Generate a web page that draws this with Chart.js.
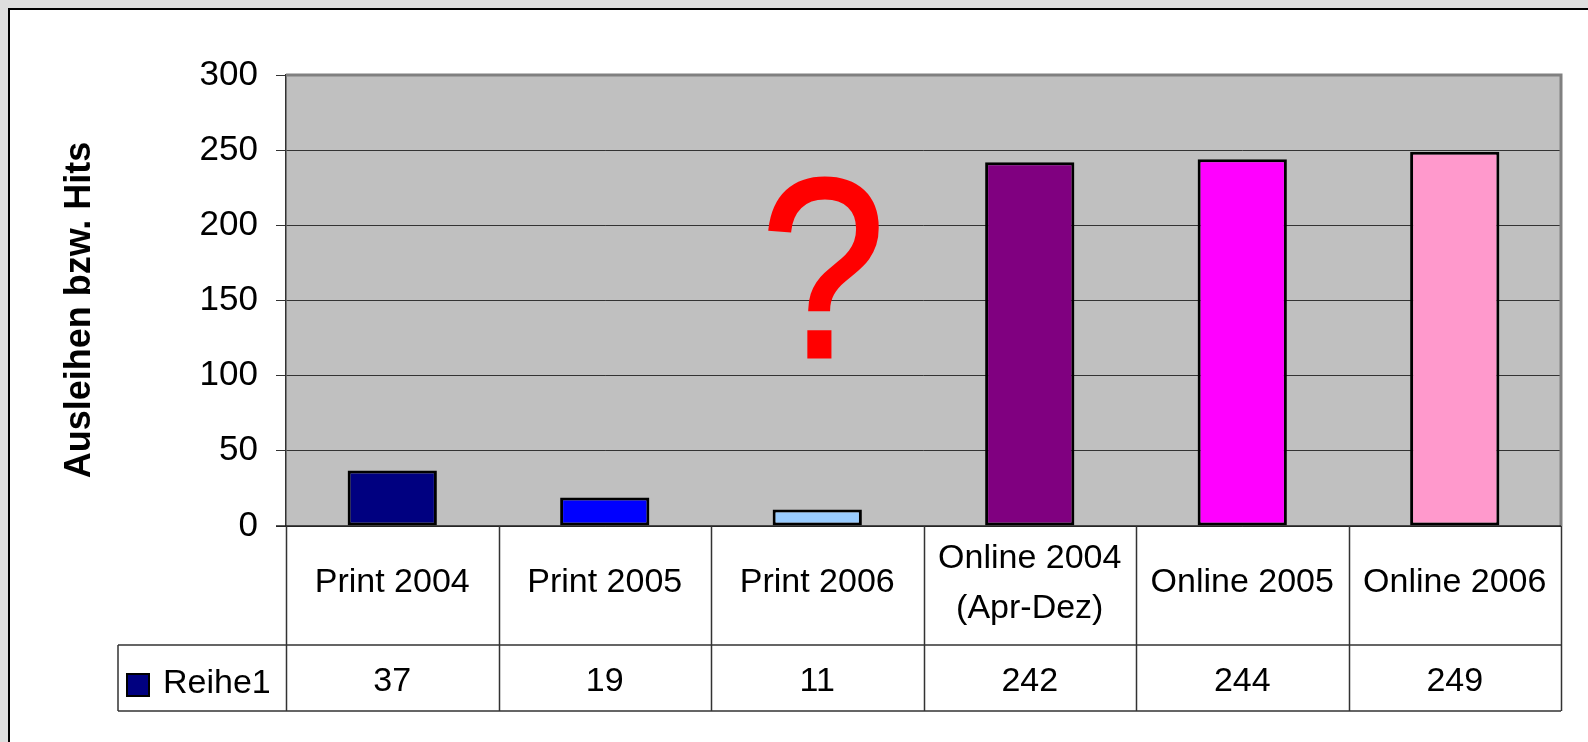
<!DOCTYPE html>
<html><head><meta charset="utf-8">
<script src="https://cdn.jsdelivr.net/npm/chart.js@4/dist/chart.umd.min.js"></script>
<style>html,body{margin:0;padding:0;background:#dedede;overflow:hidden}canvas{display:block}</style>
</head><body>
<canvas id="c" width="1588" height="742"></canvas>
<script>
// ---- data ----
const categories = [['Print 2004'], ['Print 2005'], ['Print 2006'], ['Online 2004', '(Apr-Dez)'], ['Online 2005'], ['Online 2006']];
const seriesName = 'Reihe1';
const values = [37, 19, 11, 242, 244, 249];
const barColors = ['#000080', '#0000FF', '#99CCFF', '#800080', '#FF00FF', '#FF99CC'];
const yMin = 0, yMax = 300, yStep = 50;
const yTitle = 'Ausleihen bzw. Hits';
const annotationText = '?';
const annotationCategory = 2;
const annotationValue = 112;

const FONT = '"Liberation Sans", Arial, sans-serif';

const decor = {
  id: 'decor',
  beforeDraw(chart) {
    const ctx = chart.ctx, a = chart.chartArea;
    ctx.save();
    ctx.fillStyle = '#dedede'; ctx.fillRect(0, 0, chart.width, chart.height);
    ctx.fillStyle = '#ffffff'; ctx.fillRect(9, 9, chart.width, chart.height);
    ctx.strokeStyle = '#000'; ctx.lineWidth = 2;
    ctx.beginPath(); ctx.moveTo(9, chart.height); ctx.lineTo(9, 9); ctx.lineTo(chart.width, 9); ctx.stroke();
    ctx.fillStyle = '#c0c0c0'; ctx.fillRect(a.left, a.top, a.right - a.left, a.bottom - a.top);
    ctx.restore();
  },
  afterDraw(chart) {
    const ctx = chart.ctx, a = chart.chartArea;
    const xs = chart.scales.x, ys = chart.scales.y;
    const n = categories.length;
    const cw = (a.right - a.left) / n;
    const row1Top = a.bottom, row1Bot = a.bottom + 119, row2Bot = row1Bot + 66;
    const legendLeft = 118;
    ctx.save();
    // plot border (grey top/right)
    ctx.strokeStyle = '#808080'; ctx.lineWidth = 3;
    ctx.beginPath(); ctx.moveTo(a.left, a.top); ctx.lineTo(a.right, a.top); ctx.lineTo(a.right, a.bottom); ctx.stroke();
    // axis line at bottom
    ctx.strokeStyle = '#222'; ctx.lineWidth = 1.5;
    ctx.beginPath(); ctx.moveTo(a.left - 10, a.bottom); ctx.lineTo(a.right, a.bottom); ctx.stroke();
    // table lines
    ctx.strokeStyle = '#333'; ctx.lineWidth = 1.5;
    ctx.beginPath();
    ctx.moveTo(legendLeft, row1Bot); ctx.lineTo(a.right, row1Bot);
    ctx.moveTo(legendLeft, row2Bot); ctx.lineTo(a.right, row2Bot);
    ctx.moveTo(legendLeft, row1Bot); ctx.lineTo(legendLeft, row2Bot);
    for (let i = 0; i <= n; i++) {
      const x = i < n ? xs.getPixelForValue(i) - cw / 2 : xs.getPixelForValue(n - 1) + cw / 2;
      ctx.moveTo(Math.round(x) + 0.5, row1Top); ctx.lineTo(Math.round(x) + 0.5, row2Bot);
    }
    ctx.stroke();
    // category labels and values
    ctx.fillStyle = '#000';
    ctx.font = '34px ' + FONT;
    ctx.textAlign = 'center'; ctx.textBaseline = 'alphabetic';
    categories.forEach((lines, i) => {
      const cx = xs.getPixelForValue(i);
      if (lines.length === 1) {
        ctx.fillText(lines[0], cx, row1Top + 66);
      } else {
        ctx.fillText(lines[0], cx, row1Top + 42);
        ctx.fillText(lines[1], cx, row1Top + 92);
      }
      ctx.fillText(String(values[i]), cx, row1Bot + 46);
    });
    // legend key
    ctx.fillStyle = barColors[0];
    ctx.fillRect(127, row1Bot + 29, 22, 22);
    ctx.strokeStyle = '#000'; ctx.lineWidth = 2;
    ctx.strokeRect(127, row1Bot + 29, 22, 22);
    ctx.fillStyle = '#000'; ctx.textAlign = 'left';
    ctx.fillText(seriesName, 163, row1Bot + 48);
    // y title
    ctx.save();
    ctx.translate(90, 310); ctx.rotate(-Math.PI / 2);
    ctx.font = 'bold 36px ' + FONT; ctx.textAlign = 'center'; ctx.textBaseline = 'alphabetic';
    ctx.fillText(yTitle, 0, 0);
    ctx.restore();
    // annotation
    const qx = xs.getPixelForValue(annotationCategory) + 6, qy = ys.getPixelForValue(annotationValue) - 1;
    ctx.save();
    ctx.translate(qx, qy); ctx.scale(0.88, 1);
    ctx.fillStyle = '#ff0000'; ctx.strokeStyle = '#ff0000'; ctx.lineWidth = 3;
    ctx.font = '256px ' + FONT; ctx.textAlign = 'center'; ctx.textBaseline = 'alphabetic';
    ctx.fillText(annotationText, 0, 0);
    ctx.strokeText(annotationText, 0, 0);
    ctx.restore();
    ctx.restore();
  }
};

new Chart(document.getElementById('c'), {
  type: 'bar',
  data: {
    labels: categories,
    datasets: [{
      label: seriesName,
      data: values,
      backgroundColor: barColors,
      borderColor: '#000',
      borderWidth: 3,
      borderSkipped: false,
      barPercentage: 0.42,
      categoryPercentage: 1.0
    }]
  },
  options: {
    responsive: false,
    animation: false,
    devicePixelRatio: 1,
    layout: { padding: { top: 75, right: 27, bottom: 216, left: 0 } },
    plugins: { legend: { display: false }, tooltip: { enabled: false }, title: { display: false } },
    scales: {
      x: { display: false },
      y: {
        min: yMin, max: yMax,
        afterFit(scale) { scale.width = 286; },
        ticks: { stepSize: yStep, color: '#000', padding: 18, font: { family: FONT, size: 35 } },
        grid: { color: '#333', lineWidth: 1, tickLength: 10, drawTicks: true },
        border: { display: true, color: '#333', width: 1.5 }
      }
    }
  },
  plugins: [decor]
});
</script>
</body></html>
